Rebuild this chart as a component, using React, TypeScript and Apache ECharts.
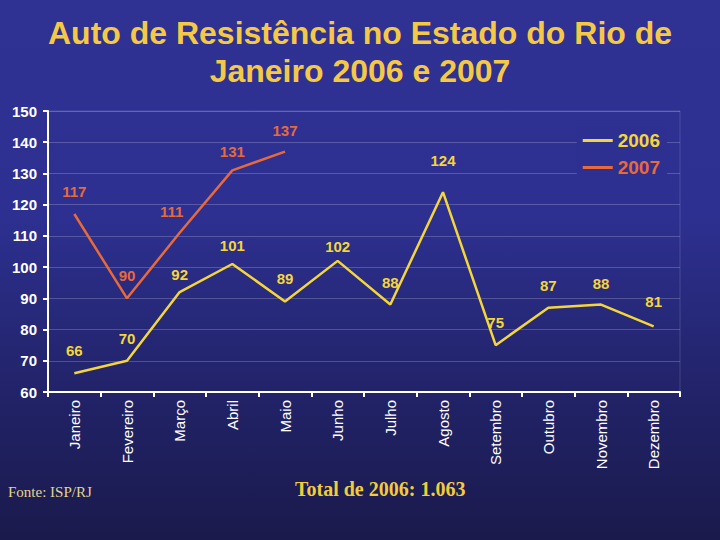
import React, { useEffect, useRef } from "react";
import * as echarts from "echarts";

const months = ["Janeiro", "Fevereiro", "Março", "Abril", "Maio", "Junho", "Julho", "Agosto", "Setembro", "Outubro", "Novembro", "Dezembro"];
const values2006 = [66, 70, 92, 101, 89, 102, 88, 124, 75, 87, 88, 81];
const values2007 = [117, 90, 111, 131, 137, null, null, null, null, null, null, null];
const titleText = "Auto de Resistência no Estado do Rio de\nJaneiro 2006 e 2007";
const sourceText = "Fonte: ISP/RJ";
const totalText = "Total de 2006: 1.063";

const YELLOW = "#f4d63a";
const ORANGE = "#e8693a";
const SANS = "'Liberation Sans', Arial, sans-serif";

export default function App() {
  const ref = useRef<HTMLDivElement>(null);
  useEffect(() => {
    if (!ref.current) return;
    const chart = echarts.init(ref.current, null, { renderer: "svg" });
    const labelStyle = (color: string) => ({
      show: true,
      position: "top",
      distance: 15,
      color,
      fontFamily: SANS,
      fontWeight: "bold",
      fontSize: 15,
    });
    // per-point label placement tweaks (layout only) to mirror the reference
    const tweak2006: Record<number, any> = {
      2: { distance: 10 },
      3: { distance: 11 },
      5: { distance: 7 },
      7: { distance: 24 },
      10: { distance: 14 },
      11: { distance: 17 },
    };
    const tweak2007: Record<number, any> = {
      2: { distance: 14, offset: [-8, 0] },
      3: { distance: 11 },
      4: { distance: 14 },
    };
    const data2006 = values2006.map((v, i) => (tweak2006[i] ? { value: v, label: tweak2006[i] } : v));
    const data2007 = values2007.map((v, i) => (tweak2007[i] ? { value: v, label: tweak2007[i] } : v));
    chart.setOption({
      animation: false,
      backgroundColor: {
        type: "linear",
        x: 0,
        y: 0,
        x2: 0,
        y2: 1,
        colorStops: [
          { offset: 0, color: "#2f3293" },
          { offset: 0.4, color: "#2d3090" },
          { offset: 0.75, color: "#212266" },
          { offset: 1, color: "#1a1a4c" },
        ],
      },
      title: {
        text: titleText,
        left: "center",
        top: 9,
        textStyle: {
          color: "#f5c945",
          fontFamily: SANS,
          fontWeight: "bold",
          fontSize: 32,
          lineHeight: 38,
        },
      },
      legend: {
        orient: "vertical",
        right: 53,
        top: 126,
        itemWidth: 30,
        itemHeight: 3,
        itemGap: 8,
        icon: "rect",
        padding: [5, 7, 5, 6],
        backgroundColor: "#2d3090",
        data: [
          { name: "2006", textStyle: { color: YELLOW } },
          { name: "2007", textStyle: { color: ORANGE } },
        ],
        textStyle: {
          fontFamily: SANS,
          fontWeight: "bold",
          fontSize: 19,
        },
      },
      grid: {
        left: 48,
        right: 40,
        top: 111,
        bottom: 148,
        show: true,
        backgroundColor: "transparent",
        borderColor: "rgba(255,255,255,0.15)",
        borderWidth: 1,
      },
      xAxis: {
        type: "category",
        data: months,
        boundaryGap: true,
        axisLine: { lineStyle: { color: "#ffffff", width: 2 } },
        axisTick: { show: true, lineStyle: { color: "#ffffff", width: 2 }, length: 5 },
        axisLabel: {
          rotate: 90,
          color: "#ffffff",
          fontFamily: SANS,
          fontSize: 15,
          interval: 0,
          margin: 8,
        },
      },
      yAxis: {
        type: "value",
        min: 60,
        max: 150,
        interval: 10,
        axisLine: { show: true, lineStyle: { color: "#ffffff", width: 2 } },
        axisTick: { show: true, lineStyle: { color: "#ffffff", width: 2 }, length: 5 },
        splitLine: { lineStyle: { color: "rgba(255,255,255,0.2)", width: 1 } },
        axisLabel: {
          color: "#ffffff",
          fontFamily: SANS,
          fontWeight: "bold",
          fontSize: 15,
          margin: 11,
        },
      },
      series: [
        {
          name: "2006",
          type: "line",
          data: data2006,
          symbol: "circle",
          symbolSize: 0,
          showSymbol: true,
          lineStyle: { color: YELLOW, width: 2.5 },
          itemStyle: { color: YELLOW },
          label: labelStyle(YELLOW),
        },
        {
          name: "2007",
          type: "line",
          data: data2007,
          symbol: "circle",
          symbolSize: 0,
          showSymbol: true,
          connectNulls: false,
          lineStyle: { color: ORANGE, width: 2.5 },
          itemStyle: { color: ORANGE },
          label: labelStyle(ORANGE),
        },
      ],
      graphic: [
        {
          type: "text",
          left: 8,
          top: 484,
          style: {
            text: sourceText,
            fill: "#e6d48a",
            font: "15px 'Liberation Serif', 'Times New Roman', serif",
          },
        },
        {
          type: "text",
          left: 295,
          top: 479,
          style: {
            text: totalText,
            fill: "#f2cc3a",
            font: "bold 20px 'Liberation Serif', 'Times New Roman', serif",
          },
        },
      ],
    });
    return () => chart.dispose();
  }, []);
  return <div ref={ref} style={{ position: "absolute", left: 0, top: 0, width: 720, height: 540 }} />;
}
